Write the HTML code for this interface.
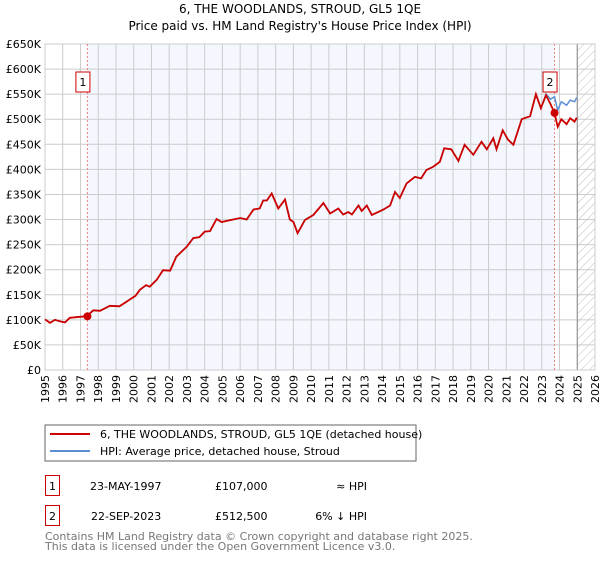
<!DOCTYPE html>
<html><head><meta charset="utf-8"><style>
body{margin:0;background:#fff;font-family:"Liberation Sans","DejaVu Sans",sans-serif;}
svg text{font-family:"DejaVu Sans","Liberation Sans",sans-serif;}
</style></head><body>
<svg id="c" width="600" height="560" xmlns="http://www.w3.org/2000/svg">
<defs><pattern id="hatch" width="6" height="6" patternUnits="userSpaceOnUse" patternTransform="rotate(45)"><line x1="0" y1="0" x2="0" y2="6" stroke="#bbb" stroke-width="1"/></pattern></defs>
<text x="300" y="13" text-anchor="middle" font-size="12">6, THE WOODLANDS, STROUD, GL5 1QE</text>
<text x="300" y="30" text-anchor="middle" font-size="12">Price paid vs. HM Land Registry's House Price Index (HPI)</text>
<g id="plot"></g>
<rect x="45" y="425" width="371" height="36" fill="#fff" stroke="#666"/>
<line x1="50" y1="434" x2="90" y2="434" stroke="#cc0000" stroke-width="2"/>
<text x="100" y="438" font-size="11">6, THE WOODLANDS, STROUD, GL5 1QE (detached house)</text>
<line x1="50" y1="451" x2="90" y2="451" stroke="#5b8fd4" stroke-width="2"/>
<text x="100" y="455" font-size="11">HPI: Average price, detached house, Stroud</text>
<g>
<rect x="45.5" y="475.5" width="14" height="20" fill="#fff" stroke="#cc0000"/>
<text x="52.5" y="490" text-anchor="middle" font-size="11">1</text>
<text x="90" y="490" font-size="11">23-MAY-1997</text>
<text x="215" y="490" font-size="11">£107,000</text>
<text x="367" y="490" text-anchor="end" font-size="11">≈ HPI</text></g>
<g>
<rect x="45.5" y="505.5" width="14" height="20" fill="#fff" stroke="#cc0000"/>
<text x="52.5" y="520" text-anchor="middle" font-size="11">2</text>
<text x="91" y="520" font-size="11">22-SEP-2023</text>
<text x="215" y="520" font-size="11">£512,500</text>
<text x="367" y="520" text-anchor="end" font-size="11">6% ↓ HPI</text></g>
<text x="45" y="540" font-size="11" fill="#777">Contains HM Land Registry data © Crown copyright and database right 2025.</text>
<text x="45" y="550" font-size="11" fill="#777">This data is licensed under the Open Government Licence v3.0.</text>
</svg>
<script>
const yTicks=[0,50,100,150,200,250,300,350,400,450,500,550,600,650];
const yTickLabels=["£0","£50K","£100K","£150K","£200K","£250K","£300K","£350K","£400K","£450K","£500K","£550K","£600K","£650K"];
const xYears=[1995,1996,1997,1998,1999,2000,2001,2002,2003,2004,2005,2006,2007,2008,2009,2010,2011,2012,2013,2014,2015,2016,2017,2018,2019,2020,2021,2022,2023,2024,2025,2026];
const hpiYears=[1995,1995.28,1995.56,1995.85,1996.13,1996.4,1996.97,1997.35,1997.72,1998.1,1998.66,1999.2,1999.8,2000.1,2000.35,2000.7,2000.9,2001.3,2001.65,2002.05,2002.4,2002.99,2003.36,2003.7,2004.0,2004.3,2004.67,2004.95,2005.6,2006.0,2006.37,2006.75,2007.1,2007.3,2007.5,2007.78,2008.15,2008.53,2008.8,2009.0,2009.24,2009.4,2009.65,2010.12,2010.69,2011.07,2011.53,2011.8,2012.1,2012.3,2012.67,2012.85,2013.14,2013.42,2014.08,2014.45,2014.73,2015.0,2015.38,2015.85,2016.2,2016.5,2016.87,2017.25,2017.5,2017.9,2018.3,2018.65,2019.14,2019.6,2019.9,2020.27,2020.45,2020.8,2021.1,2021.4,2021.87,2022.34,2022.67,2022.95,2023.24,2023.5,2023.72,2023.9,2024.1,2024.4,2024.6,2024.85,2024.97];
const hpiValues=[101,94,100,97,95,104,106,107,119,118,128,127,141,148,160,169,166,180,199,198,226,246,263,265,276,277,301,295,300,303,300,320,322,338,338,352,322,340,300,295,273,283,299,309,333,312,322,310,315,310,328,317,328,309,320,328,355,343,372,385,382,399,405,415,442,440,417,449,429,455,440,462,440,478,459,449,500,506,550,522,550,540,545,518,535,528,538,535,543];
const priceYears=[1995,1995.28,1995.56,1995.85,1996.13,1996.4,1996.97,1997.35,1997.72,1998.1,1998.66,1999.2,1999.8,2000.1,2000.35,2000.7,2000.9,2001.3,2001.65,2002.05,2002.4,2002.99,2003.36,2003.7,2004.0,2004.3,2004.67,2004.95,2005.6,2006.0,2006.37,2006.75,2007.1,2007.3,2007.5,2007.78,2008.15,2008.53,2008.8,2009.0,2009.24,2009.4,2009.65,2010.12,2010.69,2011.07,2011.53,2011.8,2012.1,2012.3,2012.67,2012.85,2013.14,2013.42,2014.08,2014.45,2014.73,2015.0,2015.38,2015.85,2016.2,2016.5,2016.87,2017.25,2017.5,2017.9,2018.3,2018.65,2019.14,2019.6,2019.9,2020.27,2020.45,2020.8,2021.1,2021.4,2021.87,2022.34,2022.67,2022.95,2023.24,2023.5,2023.72,2023.9,2024.1,2024.4,2024.6,2024.85,2024.97];
const priceValues=[101,94,100,97,95,104,106,107,119,118,128,127,141,148,160,169,166,180,199,198,226,246,263,265,276,277,301,295,300,303,300,320,322,338,338,352,322,340,300,295,273,283,299,309,333,312,322,310,315,310,328,317,328,309,320,328,355,343,372,385,382,399,405,415,442,440,417,449,429,455,440,462,440,478,459,449,500,506,550,522,548,530,512.5,485,500,490,502,495,503];
const saleYears=[1997.39,2023.72];
const saleValues=[107,512.5];
const saleLabels=["1","2"];

const X0=45,X1=595,Y0=370,Y1=44;
const xs=y=>X0+(y-1995)/(2026-1995)*(X1-X0);
const ys=v=>Y0-v/650*(Y0-Y1);
const NS="http://www.w3.org/2000/svg";
const g=document.getElementById('plot');
function mk(t,a,p){const e=document.createElementNS(NS,t);for(const k in a)e.setAttribute(k,a[k]);(p||g).appendChild(e);return e;}

const bg=mk('rect',{x:X0,y:Y1,width:X1-X0,height:Y0-Y1,fill:'#fff'});


const sh=mk('rect',{x:xs(saleYears[0]),y:Y1,width:xs(saleYears[1])-xs(saleYears[0]),height:Y0-Y1,fill:'#f4f7fe'});


const ht=mk('rect',{x:xs(2025),y:Y1,width:X1-xs(2025),height:Y0-Y1,fill:'url(#hatch)'});



yTicks.forEach((v,i)=>{
 const l=mk('line',{x1:X0,x2:X1,y1:ys(v),y2:ys(v),stroke:'#ccc','stroke-width':1});
 
 
 const t=mk('text',{x:X0-4,y:ys(v)+4,'text-anchor':'end','font-size':11});
 
 
 t.textContent=yTickLabels[i];
});
xYears.forEach(yr=>{
 const l=mk('line',{x1:xs(yr),x2:xs(yr),y1:Y1,y2:Y0,stroke:'#ccc','stroke-width':1});
 
 
 const t=mk('text',{x:0,y:0,'text-anchor':'end','font-size':11,transform:`translate(${xs(yr)+4},${Y0+5}) rotate(-90)`});
 
 
 t.textContent=yr;
});
const vl=mk('line',{x1:xs(2025),x2:xs(2025),y1:Y1,y2:Y0,stroke:'#888','stroke-width':1});


const fr=mk('rect',{x:X0,y:Y1,width:X1-X0,height:Y0-Y1,fill:'none',stroke:'#ccc'});



saleYears.forEach((yr,i)=>{
 const l=mk('line',{x1:xs(yr),x2:xs(yr),y1:Y1,y2:Y0,stroke:'#f08080','stroke-width':1,'stroke-dasharray':'2,2'});
 
 
});

const hp=mk('path',{d:hpiYears.map((y,i)=>(i?'L':'M')+xs(y).toFixed(1)+','+ys(hpiValues[i]).toFixed(1)).join(''),fill:'none',stroke:'#5b8fd4','stroke-width':1.5});


const pp=mk('path',{d:priceYears.map((y,i)=>(i?'L':'M')+xs(y).toFixed(1)+','+ys(priceValues[i]).toFixed(1)).join(''),fill:'none',stroke:'#cc0000','stroke-width':1.8});



saleYears.forEach((yr,i)=>{
 const c=mk('circle',{cx:xs(yr),cy:ys(saleValues[i]),r:4,fill:'#cc0000'});
 
 
 const bx=xs(yr)-4.5;
 const r=mk('rect',{x:bx-7,y:72,width:14,height:20,fill:'#fff',stroke:'#cc0000'});
 
 
 const t=mk('text',{x:bx,y:86,'text-anchor':'middle','font-size':11});
 
 
 t.textContent=saleLabels[i];
});
</script>
</body></html>
